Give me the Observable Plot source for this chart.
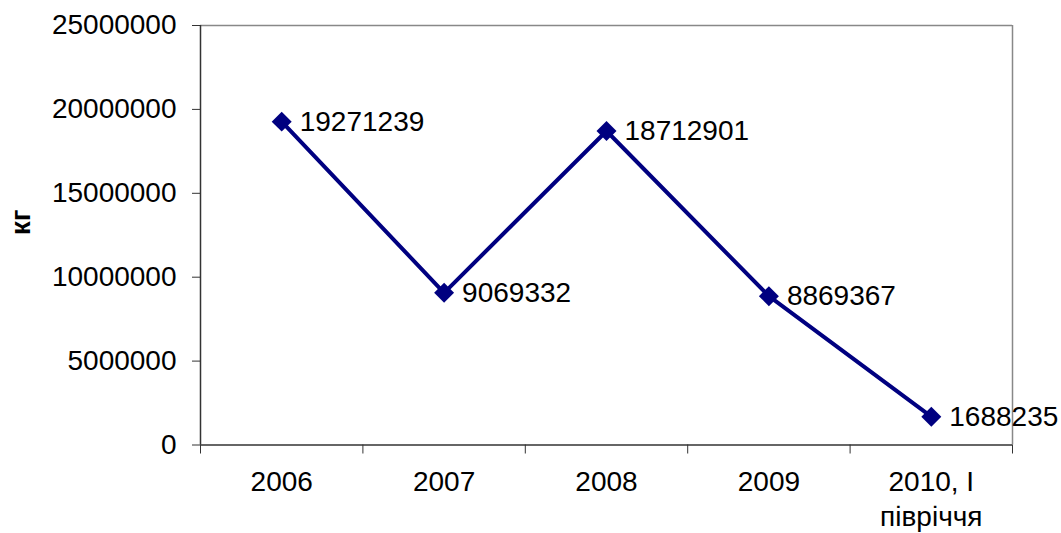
<!DOCTYPE html>
<html>
<head>
<meta charset="utf-8">
<script src="https://cdn.jsdelivr.net/npm/d3@7"></script>
<script src="https://cdn.jsdelivr.net/npm/@observablehq/plot@0.6"></script>
<style>
  html, body { margin: 0; padding: 0; background: #fff; }
  #chart svg { display: block; }
</style>
</head>
<body>
<div id="chart"></div>
<script>
const categories = ["2006", "2007", "2008", "2009", "2010, I\nпівріччя"];
const values = [19271239, 9069332, 18712901, 8869367, 1688235];
const yTicks = [0, 5000000, 10000000, 15000000, 20000000, 25000000];
const yLabel = "кг";

const data = categories.map((c, i) => ({cat: c, idx: i + 0.5, value: values[i]}));
const bounds = d3.range(categories.length + 1);

const navy = "#000080";
const fs = 28;

const chart = Plot.plot({
  width: 1061,
  height: 533,
  marginLeft: 200,
  marginRight: 49,
  marginTop: 25,
  marginBottom: 88.5,
  style: {fontFamily: "'Liberation Sans', Arial, sans-serif", fontSize: fs + "px", color: "#000", background: "#fff"},
  x: {type: "linear", domain: [0, categories.length]},
  y: {domain: [0, 25000000]},
  marks: [
    // frame: top and right in gray
    Plot.ruleY([25000000], {stroke: "#888", strokeWidth: 1.5}),
    Plot.ruleX([categories.length], {stroke: "#888", strokeWidth: 1.5}),
    // y axis
    Plot.axisY({ticks: yTicks, tickSize: 8, tickPadding: 16, tickFormat: d => String(d), stroke: "#333", fontSize: fs, label: null}),
    Plot.ruleX([0], {stroke: "#333", strokeWidth: 1.5}),
    // x axis
    Plot.ruleY([0], {stroke: "#333", strokeWidth: 1.5}),
    Plot.axisX({ticks: bounds, tickSize: 9, tickFormat: () => "", stroke: "#333", label: null}),
    Plot.axisX({ticks: data.map(d => d.idx), tickSize: 0, tickPadding: 21, lineHeight: 1.25, tickFormat: (d) => categories[Math.round(d - 0.5)], fontSize: fs, label: null}),
    // y label
    Plot.text([yLabel], {frameAnchor: "left", dx: -179, rotate: -90, fontWeight: "bold", fontSize: fs, fill: "#000"}),
    // series
    Plot.line(data, {x: "idx", y: "value", stroke: navy, strokeWidth: 4}),
    Plot.dot(data, {x: "idx", y: "value", symbol: "diamond2", r: 9, fill: navy, stroke: "none"}),
    Plot.text(data, {x: "idx", y: "value", text: d => String(d.value), textAnchor: "start", dx: 18, fontSize: fs, fill: "#000"})
  ]
});
document.getElementById("chart").appendChild(chart);
</script>
</body>
</html>
